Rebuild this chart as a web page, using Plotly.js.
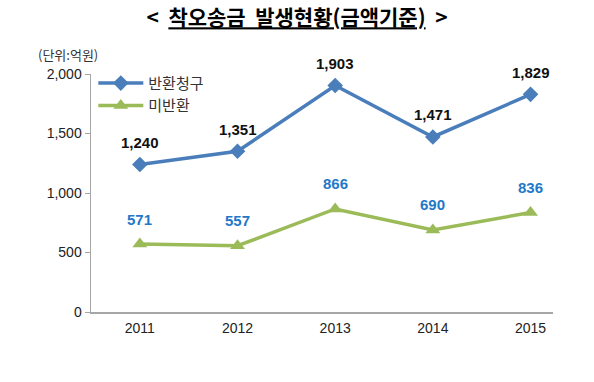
<!DOCTYPE html>
<html><head><meta charset="utf-8">
<script src="https://cdn.plot.ly/plotly-3.0.1.min.js"></script>
<style>body{margin:0;background:#fff}#c{width:594px;height:382px}</style>
</head><body><div id="c"></div>
<script>
const years = ['2011','2012','2013','2014','2015'];
const returnRequest = [1240, 1351, 1903, 1471, 1829];
const notReturned = [571, 557, 866, 690, 836];
const seriesNames = ['반환청구', '미반환'];
const yTicks = [0, 500, 1000, 1500, 2000];
const yTickText = ['0', '500', '1,000', '1,500', '2,000'];

const font = 'Arial, "Liberation Sans", "Noto Sans CJK KR", sans-serif';
const traces = [
  {x: years, y: returnRequest, name: seriesNames[0], type: 'scatter', mode: 'lines+markers',
   line: {color: '#4A7EBB', width: 3.5}, marker: {symbol: 'diamond', size: 12, color: '#4A7EBB'}},
  {x: years, y: notReturned, name: seriesNames[1], type: 'scatter', mode: 'lines+markers',
   line: {color: '#9BBB59', width: 3.5}, marker: {symbol: 'triangle-up', size: 13, color: '#9BBB59'}}
];
const fmt = v => v.toLocaleString('en-US');
const annotations = [];
years.forEach((yr, i) => {
  annotations.push({x: i, y: returnRequest[i], text: '<b>' + fmt(returnRequest[i]) + '</b>', showarrow: false,
    yshift: 22, font: {family: font, size: 15, color: '#111'}});
  annotations.push({x: i, y: notReturned[i], text: '<b>' + fmt(notReturned[i]) + '</b>', showarrow: false,
    yshift: 25, font: {family: font, size: 15, color: '#1F78C8'}});
});
annotations.push({xref: 'paper', yref: 'paper', x: -0.12, y: 1.08, xanchor: 'left', yanchor: 'middle',
  text: '(단위:억원)', showarrow: false, font: {family: '"Noto Sans CJK KR", sans-serif', size: 13, color: '#333'}});

const layout = {
  width: 594, height: 382,
  margin: {l: 91, r: 41, t: 74, b: 70},
  paper_bgcolor: '#fff', plot_bgcolor: '#fff',
  title: {text: '<b>&lt;  <u>착오송금  발생현황(금액기준)</u>  &gt;</b>', x: 0.5, xanchor: 'center', y: 0.953, yanchor: 'middle',
    font: {family: '"Noto Sans CJK KR", sans-serif', size: 21, color: '#000'}},
  xaxis: {type: 'category', range: [-0.5, 4.23], showgrid: false, zeroline: false,
    showline: true, linecolor: '#A6A6A6', linewidth: 1.5, ticks: 'outside', ticklen: 3, tickcolor: 'rgba(0,0,0,0)',
    tickfont: {family: font, size: 14, color: '#222'}},
  yaxis: {range: [0, 2000], tickvals: yTicks, ticktext: yTickText, showgrid: false, zeroline: false,
    showline: true, linecolor: '#A6A6A6', linewidth: 1.5, ticks: 'outside', ticklen: 5, tickcolor: '#A6A6A6',
    tickfont: {family: font, size: 14, color: '#222'}},
  showlegend: true,
  legend: {x: 0.005, y: 1.03, xanchor: 'left', yanchor: 'top', bgcolor: 'rgba(0,0,0,0)',
    font: {family: '"Noto Sans CJK KR", sans-serif', size: 15, color: '#333'}, tracegroupgap: 0, itemwidth: 45},
  annotations: annotations
};
Plotly.newPlot('c', traces, layout, {displayModeBar: false, staticPlot: true});
</script></body></html>
